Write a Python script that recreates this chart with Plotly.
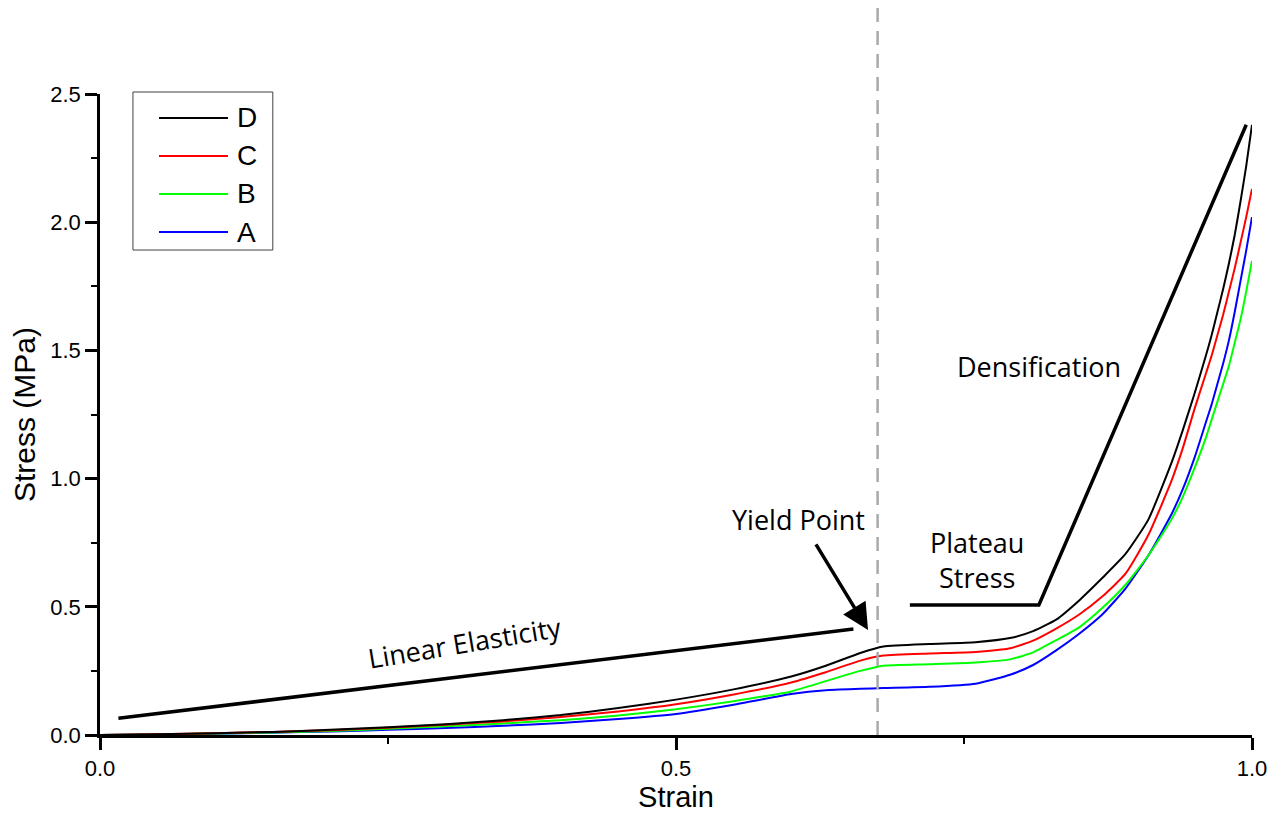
import plotly.graph_objects as go

# Compression test: engineering strain vs stress for four samples
strain = [0.00, 0.05, 0.10, 0.15, 0.20, 0.25, 0.30, 0.35, 0.40, 0.45, 0.50, 0.55,
          0.60, 0.63, 0.66, 0.68, 0.72, 0.76, 0.79, 0.81, 0.83, 0.85, 0.87, 0.89,
          0.91, 0.93, 0.94, 0.95, 0.96, 0.965, 0.97, 0.975, 0.98, 0.985, 0.99, 0.995, 1.00]

stress_d = [0.000, 0.003, 0.007, 0.012, 0.020, 0.030, 0.042, 0.058, 0.078, 0.105, 0.138, 0.178,
            0.228, 0.270, 0.320, 0.345, 0.355, 0.362, 0.378, 0.405, 0.450, 0.525, 0.612, 0.705,
            0.840, 1.060, 1.190, 1.330, 1.480, 1.560, 1.650, 1.740, 1.840, 1.950, 2.080, 2.220, 2.380]
stress_c = [0.000, 0.003, 0.007, 0.012, 0.019, 0.028, 0.040, 0.053, 0.070, 0.092, 0.120, 0.158,
            0.205, 0.245, 0.290, 0.310, 0.318, 0.324, 0.338, 0.368, 0.415, 0.470, 0.540, 0.628,
            0.780, 0.990, 1.120, 1.270, 1.410, 1.480, 1.560, 1.640, 1.730, 1.820, 1.920, 2.020, 2.130]
stress_b = [0.000, 0.002, 0.006, 0.010, 0.016, 0.024, 0.034, 0.045, 0.058, 0.076, 0.100, 0.132,
            0.170, 0.210, 0.250, 0.270, 0.276, 0.283, 0.295, 0.322, 0.370, 0.420, 0.495, 0.585,
            0.700, 0.840, 0.930, 1.040, 1.160, 1.230, 1.300, 1.370, 1.440, 1.530, 1.620, 1.730, 1.850]
stress_a = [0.000, 0.002, 0.005, 0.009, 0.014, 0.020, 0.027, 0.036, 0.047, 0.062, 0.082, 0.118,
            0.160, 0.175, 0.180, 0.183, 0.188, 0.200, 0.235, 0.273, 0.330, 0.395, 0.470, 0.570,
            0.700, 0.860, 0.960, 1.080, 1.220, 1.290, 1.370, 1.450, 1.540, 1.650, 1.770, 1.890, 2.020]

series_names = ["D", "C", "B", "A"]
series_values = [stress_d, stress_c, stress_b, stress_a]
series_colors = ["#000000", "#ff0000", "#00ff00", "#0000ff"]

yield_strain = 0.675
x_ticks = [0.0, 0.5, 1.0]
y_ticks = [0.0, 0.5, 1.0, 1.5, 2.0, 2.5]

AX_FONT = "Liberation Sans, Arial, sans-serif"
NOTE_FONT = "Open Sans, sans-serif"

fig = go.Figure()

# Draw A first so D sits on top
for name, vals, col in reversed(list(zip(series_names, series_values, series_colors))):
    fig.add_trace(go.Scatter(x=strain, y=vals, mode="lines", name=name,
                             line=dict(color=col, width=2, shape="spline", smoothing=0.5),
                             showlegend=False))

shapes = []
annotations = []

# Yield boundary
shapes.append(dict(type="line", xref="x", yref="paper", x0=yield_strain, x1=yield_strain,
                   y0=0, y1=1.14, line=dict(color="#aaaaaa", width=2.5, dash="14px,9px")))

# Guide line for linear elasticity
shapes.append(dict(type="line", xref="x", yref="y", x0=0.016, y0=0.065, x1=0.654, y1=0.413,
                   line=dict(color="black", width=3.5)))
# Plateau and densification guide
shapes.append(dict(type="path", xref="x", yref="y",
                   path="M 0.703 0.507 L 0.815 0.507 L 0.995 2.38",
                   line=dict(color="black", width=3.5)))

# Legend box drawn by hand so the line samples are long
shapes.append(dict(type="rect", xref="paper", yref="paper", x0=0.0286, x1=0.150,
                   y0=0.7566, y1=1.0031, line=dict(color="#404040", width=1)))
row_y = [0.9626, 0.9033, 0.8440, 0.7847]
for name, col, ry in zip(series_names, series_colors, row_y):
    shapes.append(dict(type="line", xref="paper", yref="paper", x0=0.0512, x1=0.1111,
                       y0=ry, y1=ry, line=dict(color=col, width=2)))
    annotations.append(dict(text=name, xref="paper", yref="paper", x=0.1170, y=ry,
                            xanchor="left", yanchor="middle", showarrow=False,
                            font=dict(family=AX_FONT, size=28, color="black")))

note = dict(family=NOTE_FONT, size=27, color="black")
annotations += [
    dict(text="Elastic Region", x=0.530, y=2.621, showarrow=False, font=note),
    dict(text="Plastic Region", x=0.834, y=2.621, showarrow=False, font=note),
    dict(text="Linear Elasticity", x=0.316, y=0.362, showarrow=False, font=note, textangle=-9.5),
    dict(text="Yield Point", x=0.606, y=0.839, showarrow=False, font=note),
    dict(text="Plateau<br>Stress", x=0.761, y=0.683, showarrow=False, font=note),
    dict(text="Densification", x=0.815, y=1.439, showarrow=False, font=note),
    dict(text="", x=0.6667, y=0.4095, ax=0.6207, ay=0.749, axref="x", ayref="y",
         showarrow=True, arrowhead=2, arrowsize=1.5, arrowwidth=3.5, arrowcolor="black"),
]

axis_common = dict(showline=True, linecolor="black", linewidth=2.5, mirror=False,
                   ticks="outside", ticklen=12, tickwidth=2.5, tickcolor="black",
                   showgrid=False, zeroline=False, tickformat=".1f", automargin=False,
                   tickfont=dict(family=AX_FONT, size=22, color="black"),
                   minor=dict(ticks="outside", ticklen=6, tickwidth=2, tickcolor="black",
                              dtick=0.25, showgrid=False))

fig.update_layout(
    width=1288, height=813,
    margin=dict(l=100, r=36, t=94, b=78),
    paper_bgcolor="white", plot_bgcolor="white",
    showlegend=False,
    xaxis=dict(range=[0, 1.0], tickvals=x_ticks, **axis_common,
               title=dict(text="Strain", standoff=2,
                          font=dict(family=AX_FONT, size=29, color="black"))),
    yaxis=dict(range=[0, 2.5], tickvals=y_ticks, **axis_common,
               title=dict(text="Stress (MPa)", standoff=6,
                          font=dict(family=AX_FONT, size=30, color="black"))),
    shapes=shapes,
    annotations=annotations,
)

fig.write_html("out.html")
